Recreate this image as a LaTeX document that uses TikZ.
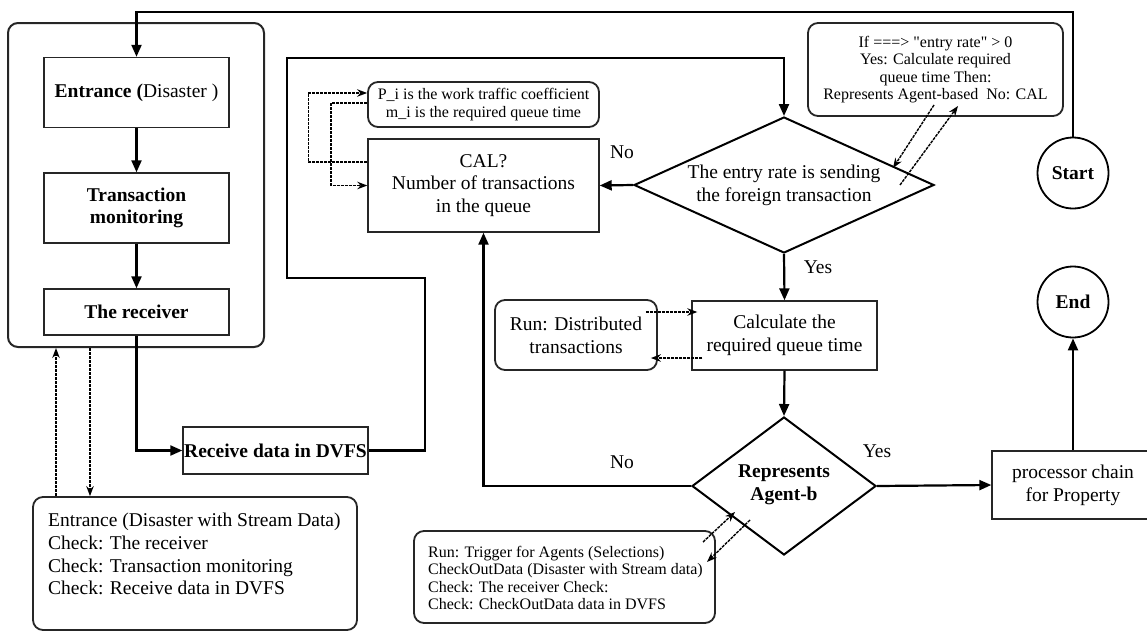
\documentclass[tikz,border=0pt]{standalone}
\usepackage{fontspec}
\setmainfont{Liberation Serif}
\usetikzlibrary{arrows.meta,shapes.geometric}
\newcommand\fmain{\fontsize{19.5}{22.7}\selectfont}
\newcommand\fsmall{\fontsize{16}{17.4}\selectfont}
\newcommand\sq{\XeTeXglyph\XeTeXcharglyph"22\relax}
\begin{document}
\begin{tikzpicture}[x=1pt,y=-1pt,
  box/.style={draw=black!85, line width=1.4pt, inner sep=0pt, align=center, font=\fmain},
  rbox/.style={box, rounded corners=10pt, line width=1.8pt},
  dia/.style={diamond, draw=black, line width=2pt, inner sep=0pt},
  circ/.style={circle, draw=black, line width=1.8pt, minimum size=71pt, inner sep=0pt, font=\fmain\bfseries},
  arr/.style={line width=2.2pt, -{Triangle[length=12pt,width=10pt]}},
  darr/.style={line width=1.4pt, dash pattern=on 3pt off 1pt, -{Stealth[length=10pt,width=7.5pt]}},
  lbl/.style={font=\fmain, inner sep=0pt},
  txt/.style={inner sep=0pt, align=left}]
\useasboundingbox (0,0) rectangle (1147,632);
% left container
\node[rbox, line width=2pt, minimum width=256pt, minimum height=324pt] (cont) at (136,185) {};
\node[box, minimum width=185pt, minimum height=70pt] (ent) at (136.5,92.5) {\textbf{Entrance (}Disaster )};
\node[box, minimum width=185pt, minimum height=70pt, font=\fmain\bfseries] (tm) at (136.5,208) {Transaction\\monitoring};
\node[box, minimum width=185pt, minimum height=46pt, font=\fmain\bfseries] (rec) at (136.5,312) {The receiver};
\node[box, minimum width=185pt, minimum height=47pt, font=\fmain\bfseries] (dvfs) at (275.5,450.5) {Receive data in DVFS};
% bottom-left box
\node[rbox, minimum width=324pt, minimum height=133pt] (bl) at (195,563.5) {};
\node[txt, font=\fmain, anchor=north west] (blt) at (48,513) {Entrance (Disaster with Stream Data)\\Check: The receiver\\Check: Transaction monitoring\\Check: Receive data in DVFS};
% CAL and P_i
\node[box, minimum width=231pt, minimum height=93pt] (cal) at (483.5,185.5) {CAL?\\Number of transactions\\in the queue};
\node[rbox, minimum width=231pt, minimum height=45pt, font=\fsmall] (pi) at (483.5,104.5) {P\_i is the work traffic coefficient\\m\_i is the required queue time};
% diamonds
\node[dia, minimum width=300pt, minimum height=136pt] (d1) at (784,185) {};
\node[lbl, align=center] (d1t) at (784,185) {The entry rate is sending\\the foreign transaction};
\node[dia, minimum width=184pt, minimum height=138pt] (d2) at (784,486) {};
\node[lbl, align=center, font=\fmain\bfseries] (d2t) at (784,485) {Represents\\Agent-b};
% calc and run
\node[box, minimum width=185pt, minimum height=69pt] (calc) at (784.5,335.5) {Calculate the\\required queue time};
\node[rbox, minimum width=162pt, minimum height=70pt] (run) at (576,335) {Run: Distributed\\transactions};
% processor
\node[box, minimum width=162pt, minimum height=68pt] (proc) at (1073,485) {processor chain\\for Property};
% circles
\node[circ] (start) at (1073,173) {Start};
\node[circ] (end) at (1073,302) {End};
% top-right note
\node[rbox, minimum width=255pt, minimum height=93pt, font=\fsmall] (tr) at (935.5,69.5) {If ===> \sq entry rate\sq{} > 0\\Yes: Calculate required\\queue time Then:\\Represents Agent-based\ \ No: CAL};
% bottom-center note
\node[rbox, minimum width=301pt, minimum height=92pt] (bc) at (564.5,577) {};
\node[txt, font=\fsmall, anchor=west] (bct) at (428,578) {Run: Trigger for Agents (Selections)\\CheckOutData (Disaster with Stream data)\\Check: The receiver Check:\\Check: CheckOutData data in DVFS};
% labels
\node[lbl] (no1) at (622,152) {No};
\node[lbl] (yes1) at (818,267) {Yes};
\node[lbl] (no2) at (622,462) {No};
\node[lbl] (yes2) at (877,451) {Yes};
% helper coordinates
\coordinate (ytop) at (0,12);
\coordinate (c1) at (425,278);
\coordinate (c2) at (287,58);
% solid connectors
\draw[arr] (start.north) |- (ytop -| ent.north) -- (ent.north);
\draw[arr] (ent.south) -- (tm.north);
\draw[arr] (tm.south) -- (rec.north);
\draw[arr] (rec.south) |- (dvfs.west);
\draw[arr] (dvfs.east) -| (c1) -| (c2) -| (d1.north);
\draw[arr] (d1.west) -- (cal.east);
\draw[arr] (d1.south) -- (calc.north);
\draw[arr] (calc.south) -- (d2.north);
\draw[arr] (d2.west) -| (cal.south);
\draw[arr] (d2.east) -- (proc.west);
\draw[arr] (proc.north) -- (end.south);
% dashed connectors
\draw[darr] ([yshift=23.5pt]cal.west) -- ++(-59,0) |- ([yshift=11.5pt]pi.west);
\draw[darr] ([yshift=1.5pt]pi.west) -- ++(-36,0) |- (cal.west);
\draw[darr] ([xshift=-12pt,yshift=23pt]run.east) -- ([xshift=6pt,yshift=23.5pt]calc.west);
\draw[darr] ([xshift=11pt,yshift=-22.5pt]calc.west) -- ([xshift=-7pt,yshift=-23pt]run.east);
\draw[darr] ([xshift=-1.5pt,yshift=-35.5pt]tr.center) -- ([xshift=109pt,yshift=17pt]d1.center);
\draw[darr] ([xshift=116pt]d1.center) -- ([xshift=22.5pt,yshift=-36.5pt]tr.center);
\draw[darr] ([xshift=138.5pt,yshift=35pt]bc.center) -- ([xshift=-49pt,yshift=-26pt]d2.center);
\draw[darr] ([xshift=-34pt,yshift=-34pt]d2.center) -- ([xshift=142.5pt,yshift=15pt]bc.center);
\draw[darr] ([xshift=-139pt]bl.north) -- ([xshift=-80pt]cont.south);
\draw[darr] ([xshift=-46pt]cont.south) -- ([xshift=-105pt]bl.north);
\end{tikzpicture}
\end{document}
